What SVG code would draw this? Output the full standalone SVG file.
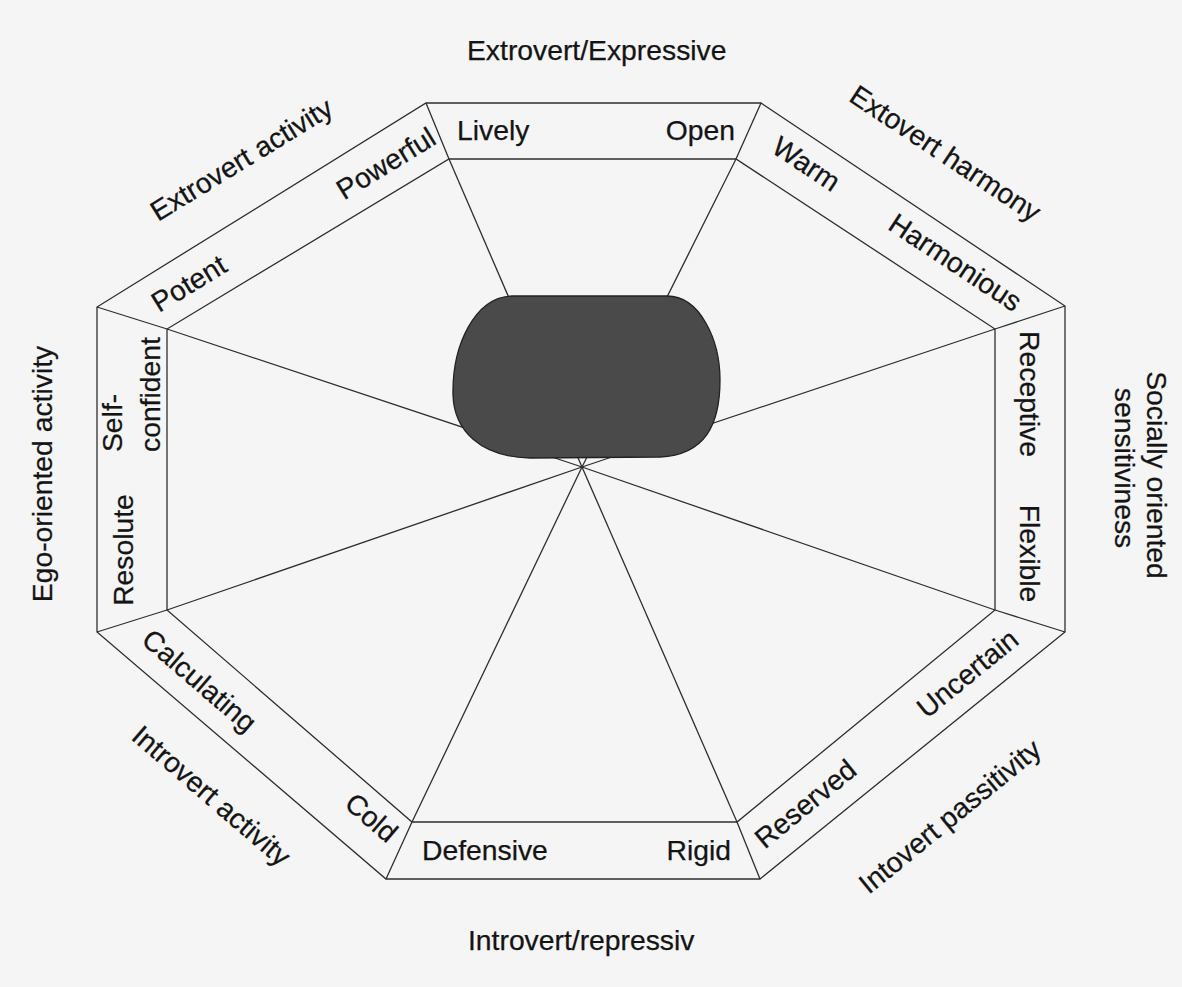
<svg xmlns="http://www.w3.org/2000/svg" width="1182" height="987" viewBox="0 0 1182 987">
<style>
text{font-family:"Liberation Sans",Arial,Helvetica,sans-serif;font-size:28.3px;fill:#141414;stroke:#141414;stroke-width:0.25}
.ln{stroke:#2e2e2e;stroke-width:1.3;fill:none}
.m{text-anchor:middle}
.e{text-anchor:end}
</style>
<rect width="1182" height="987" fill="#f5f5f5"/>
<g id="octagon">
<polygon class="ln" fill="#f9f9f9" points="426,103 761,103 1065,306 1065,632 760,879 386,879 97,632 97,307"/>
<polygon class="ln" points="449,159 736,159 995,329 995,610 737,822 412,822 167,610 167,329"/>
<line class="ln" x1="426" y1="103" x2="449" y2="159"/>
<line class="ln" x1="761" y1="103" x2="736" y2="159"/>
<line class="ln" x1="1065" y1="306" x2="995" y2="329"/>
<line class="ln" x1="1065" y1="632" x2="995" y2="610"/>
<line class="ln" x1="760" y1="879" x2="737" y2="822"/>
<line class="ln" x1="386" y1="879" x2="412" y2="822"/>
<line class="ln" x1="97" y1="632" x2="167" y2="610"/>
<line class="ln" x1="97" y1="307" x2="167" y2="329"/>
</g>
<g id="connectors">
<line class="ln" x1="449" y1="159" x2="582" y2="467"/>
<line class="ln" x1="736" y1="159" x2="582" y2="467"/>
<line class="ln" x1="995" y1="329" x2="582" y2="467"/>
<line class="ln" x1="995" y1="610" x2="582" y2="467"/>
<line class="ln" x1="737" y1="822" x2="582" y2="467"/>
<line class="ln" x1="412" y1="822" x2="582" y2="467"/>
<line class="ln" x1="167" y1="610" x2="582" y2="467"/>
<line class="ln" x1="167" y1="329" x2="582" y2="467"/>
</g>
<g id="blob">
<path d="M512,296 L667,296 C700,296 720,340 720,380 C720,425 705,455 660,457 L530,458 C480,457 454,430 453,395 C452,345 475,297 512,296 Z" fill="#4a4a4a" stroke="#222" stroke-width="1.3"/>
</g>
<g id="top">
<text x="467" y="60">Extrovert/Expressive</text>
<text x="457" y="140">Lively</text>
<text class="e" x="735" y="140">Open</text>
</g>
<g id="bottom">
<text x="468" y="950">Introvert/repressiv</text>
<text x="422" y="860">Defensive</text>
<text class="e" x="731" y="860">Rigid</text>
</g>
<g id="upper-left">
<text class="m" transform="translate(246.5,167.7) rotate(-31.5)">Extrovert activity</text>
<text class="m" transform="translate(194,291.7) rotate(-31.5)">Potent</text>
<text class="m" transform="translate(391,171.7) rotate(-31.5)">Powerful</text>
</g>
<g id="upper-right">
<text class="m" transform="translate(940,161.5) rotate(33.5)">Extovert harmony</text>
<text class="m" transform="translate(801,172) rotate(33.5)">Warm</text>
<text class="m" transform="translate(950,270.5) rotate(33.5)">Harmonious</text>
</g>
<g id="right">
<text class="m" transform="translate(1147,475) rotate(90)">Socially oriented</text>
<text class="m" transform="translate(1115,468) rotate(90)">sensitiviness</text>
<text class="m" transform="translate(1020,394) rotate(90)">Receptive</text>
<text class="m" transform="translate(1020,553.5) rotate(90)">Flexible</text>
</g>
<g id="lower-right">
<text class="m" transform="translate(956,824) rotate(-39.2)">Intovert passitivity</text>
<text class="m" transform="translate(811.6,811.4) rotate(-39.2)">Reserved</text>
<text class="m" transform="translate(973.6,681) rotate(-39.2)">Uncertain</text>
</g>
<g id="lower-left">
<text class="m" transform="translate(205,803) rotate(40.7)">Introvert activity</text>
<text class="m" transform="translate(193,688) rotate(40.7)">Calculating</text>
<text class="m" transform="translate(365,825) rotate(40.7)">Cold</text>
</g>
<g id="left">
<text class="m" transform="translate(52,474) rotate(-90)">Ego-oriented activity</text>
<text transform="translate(122,452) rotate(-90)">Self-</text>
<text transform="translate(160,452) rotate(-90)">confident</text>
<text class="m" transform="translate(133,550) rotate(-90)">Resolute</text>
</g>
</svg>
